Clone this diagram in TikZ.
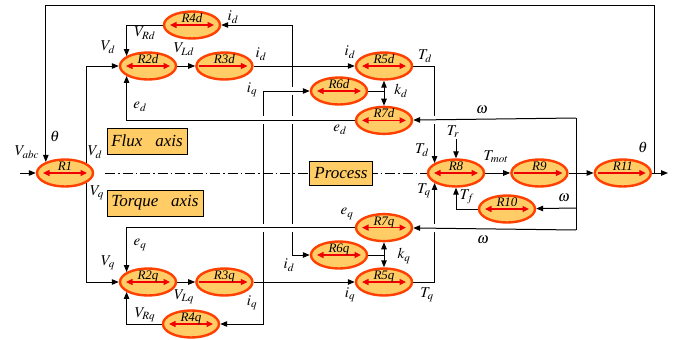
\documentclass[tikz,border=0pt]{standalone}
\usepackage{mathptmx}
\usepackage{fontspec}
\setmainfont{Liberation Serif}
\usetikzlibrary{arrows.meta,positioning,shapes.geometric,backgrounds}
\definecolor{blkfill}{RGB}{255,204,102}
\definecolor{blkline}{RGB}{255,64,0}
\definecolor{arrred}{RGB}{240,0,0}

\begin{document}
\begin{tikzpicture}[x=1pt, y=-1pt,
    node distance=18pt and 18pt,
    blk/.style={ellipse, draw=blkline, fill=blkfill, line width=2.4pt,
                minimum width=56pt, minimum height=27pt, inner sep=0pt,
                text height=7pt, text depth=12pt, font=\fontsize{13}{13}\selectfont\itshape},
    dblk/.style={blk, path picture={\draw[arrred, line width=1.1pt,
                {Triangle[length=6.5pt,width=6pt]}-{Triangle[length=6.5pt,width=6pt]}]
                ([xshift=-22pt]path picture bounding box.center) -- ([xshift=22pt]path picture bounding box.center);}},
    sblk/.style={blk, path picture={\draw[arrred, line width=1.1pt, -{Triangle[length=6.5pt,width=6pt]}]
                ([xshift=-25pt]path picture bounding box.center) -- ([xshift=23pt]path picture bounding box.center);}},
    axbox/.style={draw, fill=blkfill, minimum height=26pt, inner sep=2pt,
                font=\fontsize{17}{17}\selectfont\itshape},
    lbl/.style={inner sep=0pt, font=\fontsize{15}{15}\selectfont},
    arr/.style={-{Triangle[length=7pt,width=5.5pt]}, line width=1pt},
    ln/.style={line width=1pt},
    gap/.style={preaction={draw=white, line width=8pt, -}},
    axis/.style={line width=1pt, dash pattern=on 10pt off 3pt on 1.5pt off 3pt}]
\useasboundingbox (0,0) rectangle (681,340);
% blocks
\node[dblk] (r1) at (65,173) {R1};
\node[dblk] (r2d) at (148,66) {R2d};
\node[sblk, right=of r2d] (r3d) {R3d};
\node[dblk] (r4d) at (192,25) {R4d};
\node[dblk] (r5d) at (384,66) {R5d};
\node[dblk] (r6d) at (339,91) {R6d};
\node[dblk, below=25pt of r5d] (r7d) {R7d};
\node[dblk] (r8) at (456,173) {R8};
\node[sblk, right=25pt of r8] (r9) {R9};
\node[sblk, right=25pt of r9] (r11) {R11};
\node[dblk] (r10) at (507,209) {R10};
\node[dblk] (r2q) at (148,282) {R2q};
\node[sblk, right=of r2q] (r3q) {R3q};
\node[dblk] (r4q) at (191,324) {R4q};
\node[dblk] (r5q) at (384,282) {R5q};
\node[dblk] (r6q) at (339,255) {R6q};
\node[dblk, above=25pt of r5q] (r7q) {R7q};
\node[axbox, minimum width=80pt] (flux) at (147,141) {Flux\ \ \ axis};
\node[axbox, minimum width=96pt] (torque) at (155,203) {Torque\ \ \ axis};
\node[axbox, minimum width=63pt, minimum height=24pt] (proc) at (341,173) {Process};
% labels
\node[lbl] (lvabc) at (27,152) {$V_{abc}$};
\node[lbl] (lth1) at (55,136) {$\theta$};
\node[lbl] (lvd1) at (95,152) {$V_d$};
\node[lbl] (lvq1) at (97,193) {$V_q$};
\node[lbl] (lvd2) at (108,47) {$V_d$};
\node[lbl] (lvrd) at (145,33) {$V_{Rd}$};
\node[lbl] (lvld) at (184,49) {$V_{Ld}$};
\node[lbl] (lid1) at (233,17) {$i_d$};
\node[lbl] (lid2) at (261,54) {$i_d$};
\node[lbl] (liq1) at (252,90) {$i_q$};
\node[lbl] (led1) at (140,107) {$e_d$};
\node[lbl] (lid3) at (350,52) {$i_d$};
\node[lbl] (ltd1) at (425,56) {$T_d$};
\node[lbl] (lkd) at (401,91) {$k_d$};
\node[lbl] (led2) at (340,130) {$e_d$};
\node[lbl] (ltd2) at (422,150) {$T_d$};
\node[lbl] (ltr) at (453,132) {$T_r$};
\node[lbl] (lw1) at (482,110) {$\omega$};
\node[lbl] (ltmot) at (496,157) {$T_{mot}$};
\node[lbl] (lth2) at (643,147) {$\theta$};
\node[lbl] (ltf) at (467,197) {$T_f$};
\node[lbl] (lw2) at (564,198) {$\omega$};
\node[lbl] (ltq1) at (424,191) {$T_q$};
\node[lbl] (leq1) at (140,245) {$e_q$};
\node[lbl] (lvq2) at (108,263) {$V_q$};
\node[lbl] (leq2) at (347,214) {$e_q$};
\node[lbl] (lid4) at (289,265) {$i_d$};
\node[lbl] (lkq) at (404,256) {$k_q$};
\node[lbl] (lvlq) at (184,297) {$V_{Lq}$};
\node[lbl] (liq2) at (252,303) {$i_q$};
\node[lbl] (lvrq) at (145,315) {$V_{Rq}$};
\node[lbl] (liq3) at (350,295) {$i_q$};
\node[lbl] (ltq2) at (427,295) {$T_q$};
\node[lbl] (lw3) at (483,240) {$\omega$};
% connectors
\coordinate (vin) at (20,173);
\coordinate (vout) at (668,173);
\coordinate (thj) at (654,173);
\coordinate (topy) at (0,5);
\coordinate (idj) at (292,66);
\coordinate (iqj) at (263,282);
\coordinate (kdj) at (384,91);
\coordinate (kqj) at (384,255);
\coordinate (trin) at (456,139);
\coordinate (wt) at (576,118);
\coordinate (wm) at (576,208);
\coordinate (wb) at (576,230);
\coordinate (axl) at (105,173);
\begin{scope}[on background layer]
\draw[arr] (idj) |- (r4d);
\draw[arr] (idj) |- (r6q);
\draw[arr] (iqj) |- (r4q);
\draw[arr, gap] (iqj) |- (r6d);
\draw[arr] (r5d) -| (r8.155);
\draw[arr] (r5q) -| (r8.205);
\draw[arr, gap] (r7d) -| (r2d.205);
\draw[arr, gap] (r7q) -| (r2q.155);
\draw[arr, gap] (wt) -- (r7d);
\draw[arr, gap] (wb) -- (r7q);
\draw[ln] (wt) -- (wb);
\draw[arr] (wm) -- (r10);
\draw[arr] (vin) -- (r1);
\draw[arr] (r1.25) |- (r2d);
\draw[arr] (r1.-25) |- (r2q);
\draw[arr] (r2d) -- (r3d);
\draw[arr] (r3d) -- (r5d);
\draw[arr] (r4d) -| (r2d.155);
\draw[ln] (r6d) -- (kdj);
\draw[arr] (kdj) -- (r5d);
\draw[arr] (kdj) -- (r7d);
\draw[arr] (r2q) -- (r3q);
\draw[arr] (r3q) -- (r5q);
\draw[arr] (r4q) -| (r2q.205);
\draw[ln] (r6q) -- (kqj);
\draw[arr] (kqj) -- (r7q);
\draw[arr] (kqj) -- (r5q);
\draw[arr] (trin) -- (r8);
\draw[arr] (r10) -| (r8);
\draw[arr] (r8) -- (r9);
\draw[arr] (r9) -- (r11);
\draw[arr] (r11) -- (vout);
\draw[arr] (thj) -- (thj |- topy) -| (r1.150);
\draw[axis] (axl) -- (r8);
\end{scope}
\end{tikzpicture}
\end{document}
